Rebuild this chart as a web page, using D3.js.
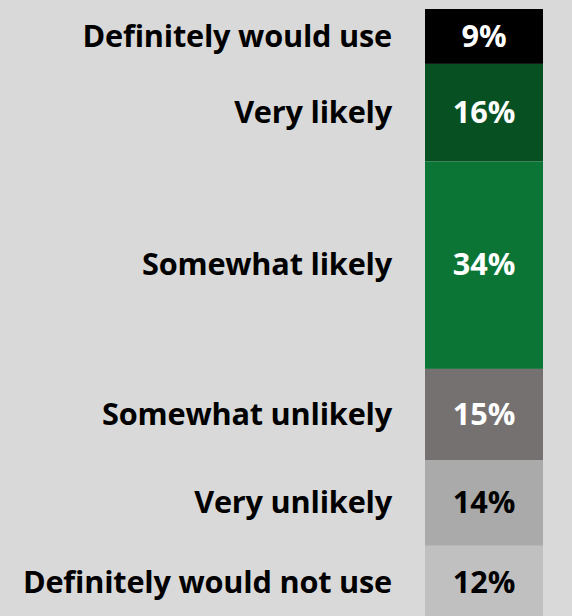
<!DOCTYPE html>
<html>
<head>
<meta charset="utf-8">
<script src="https://cdn.jsdelivr.net/npm/d3@7"></script>
<style>
  html, body { margin: 0; padding: 0; background: #d9d9d9; overflow: hidden; }
  svg { display: block; }
</style>
</head>
<body>
<svg id="chart"></svg>
<script>
// answer categories, top of the bar to the bottom
const categories = ["Definitely would use", "Very likely", "Somewhat likely",
                    "Somewhat unlikely", "Very unlikely", "Definitely would not use"];
const values = [9, 16, 34, 15, 14, 12];
const valueLabels = ["9%", "16%", "34%", "15%", "14%", "12%"];
const fills = ["#000000", "#075022", "#0b7535", "#767171", "#aaaaaa", "#c0c0c0"];
const textColors = ["#ffffff", "#ffffff", "#ffffff", "#ffffff", "#000000", "#000000"];

const width = 572, height = 616;
const barX = 425, barW = 118;
const labelRight = 392;
const font = "'Open Sans', 'Noto Sans', sans-serif";

const svg = d3.select("#chart")
  .attr("width", width)
  .attr("height", height);

svg.append("rect").attr("width", width).attr("height", height).attr("fill", "#d9d9d9");

// stack the shares
let acc = 0;
const segs = values.map((v, i) => {
  const s = { name: categories[i], v, y0: acc, y1: acc + v, i };
  acc += v;
  return s;
});

const y = d3.scaleLinear()
  .domain([0, d3.sum(values)])
  .range([9, 619]);

const g = svg.append("g");

g.selectAll("rect.seg")
  .data(segs)
  .join("rect")
  .attr("class", "seg")
  .attr("x", barX)
  .attr("width", barW)
  .attr("y", d => y(d.y0))
  .attr("height", d => y(d.y1) - y(d.y0))
  .attr("fill", d => fills[d.i]);

const vals = g.selectAll("text.val")
  .data(segs)
  .join("text")
  .attr("class", "val")
  .attr("x", barX + barW / 2)
  .attr("y", d => (y(d.y0) + y(d.y1)) / 2)
  .attr("dy", "0.33em")
  .attr("text-anchor", "middle")
  .attr("font-family", font)
  .attr("font-weight", "bold")
  .attr("font-size", "27px")
  .attr("fill", d => textColors[d.i])
  .text(d => valueLabels[d.i]);

const cats = g.selectAll("text.cat")
  .data(segs)
  .join("text")
  .attr("class", "cat")
  .attr("x", labelRight)
  .attr("y", d => (y(d.y0) + y(d.y1)) / 2)
  .attr("dy", "0.33em")
  .attr("text-anchor", "end")
  .attr("font-family", font)
  .attr("font-weight", "bold")
  .attr("font-size", "27px")
  .attr("fill", "#000")
  .text(d => d.name);

// fit the substitute font to the width the longest label takes
const longest = cats.filter((d, i) => i === 5).node().getComputedTextLength();
const fs = 27 * 374 / longest;
cats.attr("font-size", fs + "px").attr("letter-spacing", "-0.2px");
vals.attr("font-size", fs + "px");
</script>
</body>
</html>
